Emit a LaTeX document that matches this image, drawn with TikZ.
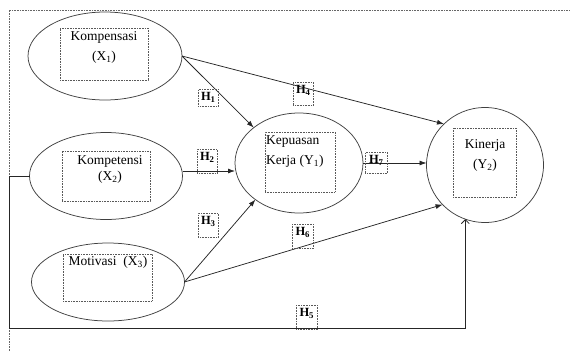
\documentclass[tikz,border=0pt]{standalone}
\usepackage{fontspec}
\setmainfont{Liberation Serif}
\usetikzlibrary{arrows.meta,shapes.geometric}
\begin{document}
\begin{tikzpicture}[x=1pt,y=-1pt,
  ell/.style={ellipse, draw=black!75, line width=0.75pt, inner sep=0pt, outer sep=0pt},
  ibox/.style={rectangle, draw=black!65, densely dotted, line width=0.6pt, inner sep=0pt},
  hbox/.style={rectangle, draw=black!65, densely dotted, line width=0.6pt, inner sep=0pt, anchor=north west},
  txt/.style={font=\fontsize{13.5}{16}\selectfont, inner sep=0pt},
  htxt/.style={font=\fontsize{12.5}{14}\selectfont\bfseries, inner sep=0pt, anchor=north, yshift=-3.5pt},
  arr/.style={draw=black!85, line width=0.75pt, -{Latex[length=7pt,width=5pt]}},
  openarr/.style={draw=black!85, line width=0.75pt, -{Straight Barb[length=4pt,width=8pt]}},
  frame/.style={draw=black!60, densely dotted, line width=0.6pt}
]
\useasboundingbox (0,0) rectangle (570,351);

% frame
\coordinate (ftl) at (9,10);
\coordinate (ftr) at (570,10);
\coordinate (fbl) at (9,351);
\draw[frame] (fbl) -- (ftl) -- (ftr);

% ellipses
\node[ell, minimum width=154pt, minimum height=88pt] (x1) at (105,56) {};
\node[ell, minimum width=153pt, minimum height=87pt] (x2) at (106,176) {};
\node[ell, minimum width=153pt, minimum height=78pt] (x3) at (108,282) {};
\node[ell, minimum width=128pt, minimum height=100pt] (y1) at (299,163) {};
\node[ell, minimum width=117pt, minimum height=115pt] (y2) at (485,165) {};

% inner boxes
\node[ibox, minimum width=88pt, minimum height=52pt] (b1) at (104,54) {};
\node[ibox, minimum width=88pt, minimum height=50pt] (b2) at (106,176) {};
\node[ibox, minimum width=89pt, minimum height=47pt] (b3) at (107.5,277.5) {};
\node[ibox, minimum width=70pt, minimum height=60pt] (b4) at (300,162) {};
\node[ibox, minimum width=63pt, minimum height=69pt] (b5) at (484.5,162.5) {};

% texts
\node[txt] (t1a) at (104,37) {Kompensasi};
\node[txt] (t1b) at (104,57) {(X\textsubscript{1})};
\node[txt] (t2a) at (110,161) {Kompetensi};
\node[txt] (t2b) at (110,177) {(X\textsubscript{2})};
\node[txt] (t3) at (108,262) {Motivasi\ \ (X\textsubscript{3})};
\node[txt, anchor=west] (t4a) at (266,142) {Kepuasan};
\node[txt, anchor=west] (t4b) at (266,161) {Kerja (Y\textsubscript{1})};
\node[txt] (t5a) at (485,145) {Kinerja};
\node[txt] (t5b) at (485,165) {(Y\textsubscript{2})};

% connectors
\draw[arr] (x1.east) -- (y1.142);
\draw[arr] (x1.east) -- (y2.135);
\draw[arr] ([yshift=5pt]x2.east) -- ([yshift=5pt]x2.east -| y1.west);
\draw[arr] (y1.east) -- (y1.east -| y2.west);
\draw[arr] (x3.east) -- (y1.220);
\draw[arr] (x3.east) -- (y2.223);
\coordinate (c1) at (9,328);
\draw[openarr] (x2.west) -| (c1) -| (y2.250);

% hypothesis labels
\node[hbox, minimum width=20pt, minimum height=17pt] (h1) at (198,89) {};
\node[htxt] (h1t) at (h1.north) {H\textsubscript{1}};
\node[hbox, minimum width=20pt, minimum height=24pt] (h2) at (197,149) {};
\node[htxt] (h2t) at (h2.north) {H\textsubscript{2}};
\node[hbox, minimum width=20pt, minimum height=24pt] (h3) at (198,213) {};
\node[htxt] (h3t) at (h3.north) {H\textsubscript{3}};
\node[hbox, minimum width=20pt, minimum height=23pt] (h4) at (293,82) {};
\node[htxt] (h4t) at (h4.north) {H\textsubscript{4}};
\node[hbox, minimum width=21pt, minimum height=24pt] (h5) at (296,305) {};
\node[htxt] (h5t) at (h5.north) {H\textsubscript{5}};
\node[hbox, minimum width=21pt, minimum height=24pt] (h6) at (292,224) {};
\node[htxt] (h6t) at (h6.north) {H\textsubscript{6}};
\node[hbox, minimum width=22pt, minimum height=21pt] (h7) at (365,152) {};
\node[htxt] (h7t) at (h7.north) {H\textsubscript{7}};
\end{tikzpicture}
\end{document}
